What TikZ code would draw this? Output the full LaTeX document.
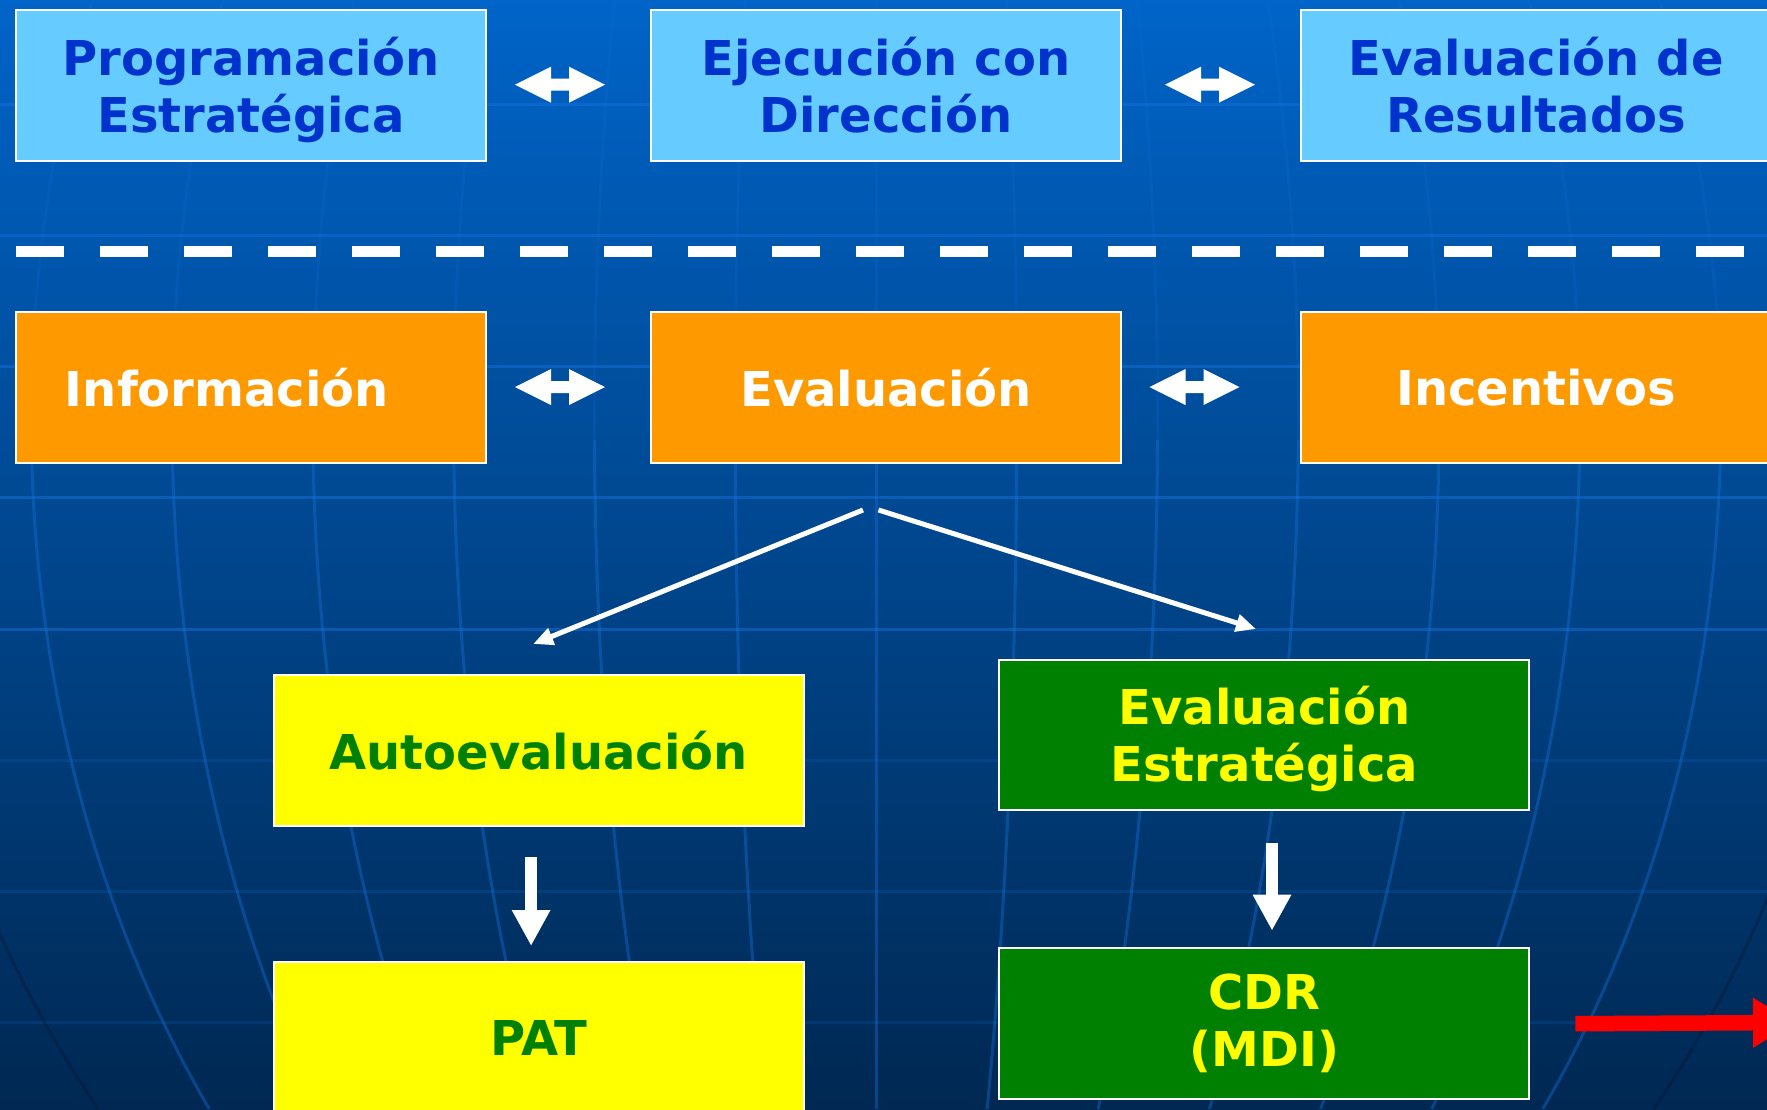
\documentclass[tikz,border=0pt]{standalone}
\usepackage{fontspec}
\setmainfont{DejaVu Sans}
\usetikzlibrary{arrows.meta,calc}
\definecolor{bgtop}{RGB}{0,100,200}
\definecolor{bgbot}{RGB}{0,40,82}
\definecolor{gridc}{RGB}{20,112,218}
\definecolor{gridd}{RGB}{0,20,50}
\definecolor{lblue}{HTML}{66CCFF}
\definecolor{dblue}{HTML}{0033CC}
\definecolor{orng}{HTML}{FF9900}
\definecolor{ylw}{HTML}{FFFF00}
\definecolor{grn}{HTML}{008000}
\definecolor{rd}{HTML}{FF0000}
\begin{document}
\begin{tikzpicture}[x=1pt,y=-1pt,
  box/.style={draw=white, line width=2pt, minimum height=151pt, anchor=north west,
    inner sep=0pt, align=center, font=\fontsize{48pt}{57pt}\selectfont\bfseries},
  wide/.style={minimum width=470pt},
  wider/.style={minimum width=530pt},
  gridline/.style={gridc, line width=3pt, opacity=0.5},
  gridfaint/.style={gridc, line width=3pt, opacity=0.18},
  gridmid/.style={gridc, line width=3pt, opacity=0.4},
  darkline/.style={gridd, line width=3pt, opacity=0.35},
  thinarrow/.style={white, line width=5pt, -{Triangle[length=20pt,width=17pt]}},
  downarrow/.style={white, line width=12pt, -{Triangle[length=36pt,width=36pt]}},
  redarrow/.style={rd, line width=15.5pt, -{Triangle[length=42pt,width=47pt]}},
  dblarrow/.style={white}
]
\useasboundingbox (0,0) rectangle (1767,1109);
\shade[top color=bgtop, bottom color=bgbot] (0,0) rectangle (1767,1109);
% background grid
\foreach \yy in {104,235,366,497,629}
  \draw[gridline] (0,\yy) -- (1767,\yy);
\foreach \yy in {760,891,1022}
  \draw[gridfaint] (0,\yy) -- (1767,\yy);
\foreach \k in {-6,...,6}{
  \draw[gridfaint] plot[domain=0:440, samples=20, variable=\t]
    ({876+(\k)*140.8*sqrt(1-((\t-420)/1122)^2)}, \t);
  \draw[gridmid] plot[domain=440:1109, samples=30, variable=\t]
    ({876+(\k)*140.8*sqrt(1-((\t-420)/1122)^2)}, \t);
}
\foreach \k in {-7,7}
  \draw[darkline] plot[domain=0:1109, samples=40, variable=\t]
    ({876+(\k)*140.8*sqrt(1-((\t-420)/1122)^2)}, \t);
% dashed separator
\coordinate (dl) at (15.6,251.5);
\coordinate (dr) at (1767,251.5);
\draw[white, line width=11.6pt, dash pattern=on 48pt off 36pt] (dl) -- (dr);
% top row
\node[box, wide, fill=lblue, text=dblue] (b1) at (15,9) {\rule{0pt}{47pt}Programación\\Estratégica};
\node[box, wide, fill=lblue, text=dblue] (b2) at (650,9) {Ejecución con\\Dirección};
\node[box, wide, fill=lblue, text=dblue] (b3) at (1300,9) {Evaluación de\\Resultados};
% middle row
\node[box, wide, fill=orng, text=white] (b4) at (15,311) {\hspace*{-48pt}Información};
\node[box, wide, fill=orng, text=white] (b5) at (650,311) {Evaluación};
\node[box, wide, fill=orng, text=white] (b6) at (1300,311) {Incentivos};
% lower boxes
\node[box, wider, fill=ylw, text=grn] (auto) at (272.7,674) {Autoevaluación};
\node[box, wider, fill=grn, text=ylw, minimum height=150pt] (eest) at (998.4,659) {\rule{0pt}{47pt}Evaluación\\Estratégica};
\node[box, wider, fill=ylw, text=grn] (pat) at (272.7,961) {PAT};
\node[box, wider, fill=grn, text=ylw] (cdr) at (998.4,946.7) {CDR\\(MDI)};
% double block arrows
\coordinate (m1) at (560,84.7);
\coordinate (m2) at (1210,84.7);
\coordinate (m3) at (560,387);
\coordinate (m4) at (1194.5,387);
\foreach \m in {m1,m2,m3,m4}
  \fill[dblarrow, shift={(\m)}] (-45,0) -- (-9,-18) -- (-9,-6) -- (9,-6) -- (9,-18) -- (45,0)
    -- (9,18) -- (9,6) -- (-9,6) -- (-9,18) -- cycle;
% diagonal arrows
\draw[thinarrow] ($(b5.south)+(-23,46)$) -- ($(auto.north)+(-5.6,-30)$);
\draw[thinarrow] ($(b5.south)+(-7.5,46)$) -- ($(eest.north)+(-8.4,-30)$);
% down arrows
\draw[downarrow] ($(auto.south)+(-7.6,30)$) -- ($(pat.north)+(-7.6,-15)$);
\draw[downarrow] ($(eest.south)+(7.6,31.7)$) -- ($(cdr.north)+(7.6,-16)$);
% red arrow
\coordinate (redend) at (1795,1022.5);
\draw[redarrow] ($(cdr.east)+(45,0.5)$) -- (redend);
\end{tikzpicture}
\end{document}
